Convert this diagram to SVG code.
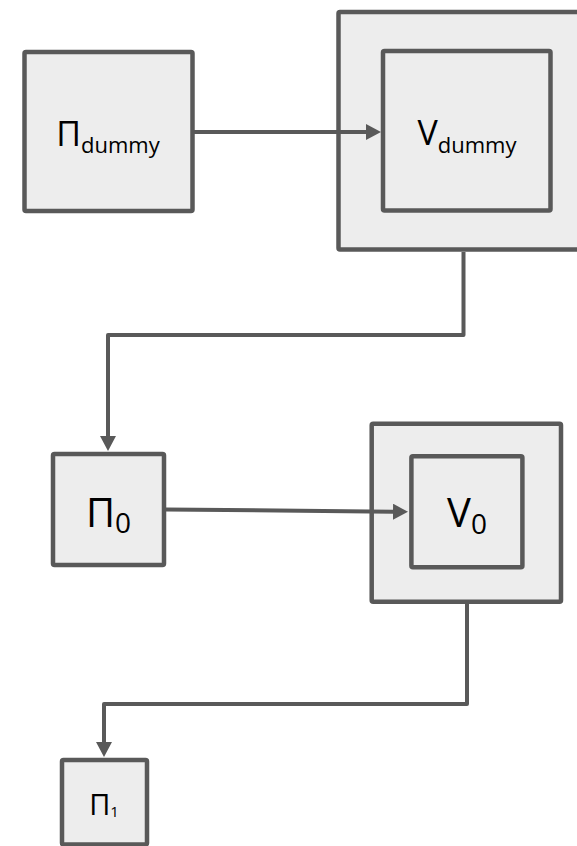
<svg xmlns="http://www.w3.org/2000/svg" width="577" height="846" viewBox="0 0 577 846">
  <style>
    .box { fill: #ededed; stroke: #595959; stroke-width: 4.5; stroke-linejoin: round; }
    .edge { fill: none; stroke: #595959; stroke-width: 4; stroke-linejoin: round; }
    .lbl { font-family: "Open Sans", "Noto Sans", sans-serif; fill: #000; text-anchor: middle; }
  </style>
  <defs>
    <marker id="arrow" markerUnits="userSpaceOnUse" markerWidth="15" markerHeight="16" viewBox="0 0 15 16" refX="0" refY="8" orient="auto">
      <path d="M0,0 L15,8 L0,16 Z" fill="#595959"/>
    </marker>
  </defs>

  <rect x="0" y="0" width="577" height="846" fill="#ffffff"/>

  <!-- nodes -->
  <g id="pi-dummy">
    <rect class="box" x="24.5" y="52" width="168" height="159" rx="1.5"/>
    <text class="lbl" x="108" y="146" font-size="34">Π<tspan font-size="22" dy="7">dummy</tspan></text>
  </g>

  <g id="v-dummy">
    <rect class="box" x="338.5" y="12" width="260" height="237.5" rx="1.5"/>
    <rect class="box" x="383" y="51" width="167.5" height="159.5" rx="1.5"/>
    <text class="lbl" x="467" y="145" font-size="34">V<tspan font-size="22" dy="8">dummy</tspan></text>
  </g>

  <g id="pi-0">
    <rect class="box" x="53" y="454" width="111" height="111" rx="1.5"/>
    <text class="lbl" x="108.5" y="527" font-size="40">Π<tspan font-size="28" dy="6">0</tspan></text>
  </g>

  <g id="v-0">
    <rect class="box" x="371.7" y="423.7" width="189.3" height="178" rx="1.5"/>
    <rect class="box" x="411.4" y="456.2" width="111" height="111" rx="1.5"/>
    <text class="lbl" x="467" y="527" font-size="40">V<tspan font-size="28" dy="7">0</tspan></text>
  </g>

  <g id="pi-1">
    <rect class="box" x="62" y="760" width="85" height="84.5" rx="1.5"/>
    <text class="lbl" x="104" y="815" font-size="29">Π<tspan font-size="15" dy="2">1</tspan></text>
  </g>

  <!-- connectors -->
  <g id="edges">
    <path class="edge" d="M194,132 H366" marker-end="url(#arrow)"/>
    <path class="edge" d="M463.5,252 V335 H108 V436" marker-end="url(#arrow)"/>
    <path class="edge" d="M166,509.5 L393,511.7" marker-end="url(#arrow)"/>
    <path class="edge" d="M467,604 V704 H104 V742" marker-end="url(#arrow)"/>
  </g>
</svg>
